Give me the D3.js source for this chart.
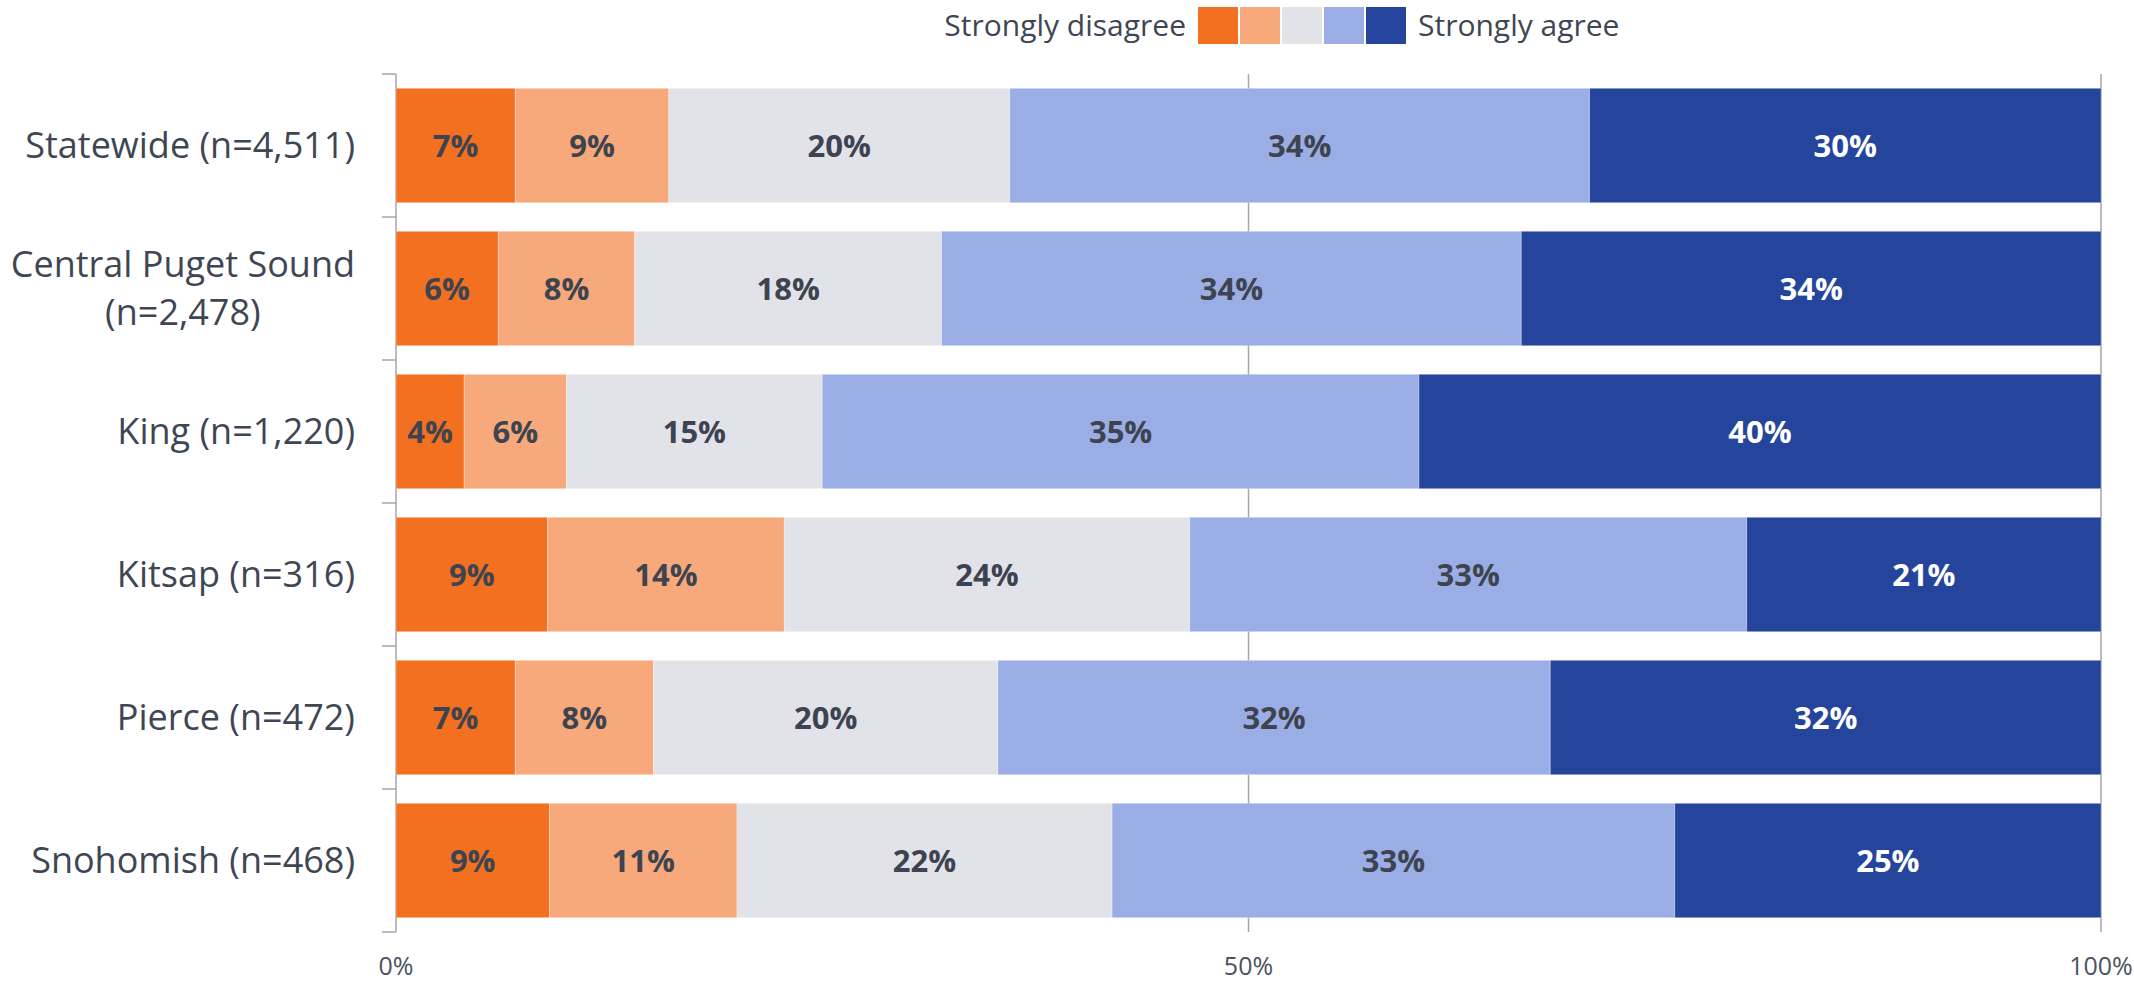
<!DOCTYPE html>
<html>
<head>
<meta charset="utf-8">
<script src="https://cdn.jsdelivr.net/npm/d3@7"></script>
<style>
  html, body { margin: 0; padding: 0; background: #ffffff; }
  svg { display: block; }
  text { font-family: "Open Sans", "Noto Sans", sans-serif; }
</style>
</head>
<body>
<svg id="chart" width="2134" height="983"></svg>
<script>
// ---------- data ----------
const categories = [
  "Statewide (n=4,511)",
  "Central Puget Sound (n=2,478)",
  "King (n=1,220)",
  "Kitsap (n=316)",
  "Pierce (n=472)",
  "Snohomish (n=468)"
];
const seriesNames = ["Strongly disagree", "Disagree", "Neutral", "Agree", "Strongly agree"];
const stronglyDisagree = [7, 6, 4, 8.9, 7.0, 9.0];
const disagree         = [9, 8, 6, 13.9, 8.1, 11.0];
const neutral          = [20, 18, 15, 23.8, 20.2, 22.0];
const agree            = [34, 34, 35, 32.7, 32.4, 33.0];
const stronglyAgree    = [30, 34, 40, 20.8, 32.3, 25.0];
const xTicks = [0, 0.5, 1];
const xTickLabels = ["0%", "50%", "100%"];
const legendLeft = "Strongly disagree";
const legendRight = "Strongly agree";

const colors = ["#F37021", "#F8A97B", "#E1E3E8", "#9BADE5", "#25459D"];
const labelColors = ["#3D4450", "#3D4450", "#3D4450", "#3D4450", "#FFFFFF"];

const seriesValues = [stronglyDisagree, disagree, neutral, agree, stronglyAgree];
const rows = categories.map((c, i) => {
  const r = { category: c };
  seriesNames.forEach((s, k) => r[s] = seriesValues[k][i]);
  return r;
});
const stacked = d3.stack().keys(seriesNames)
  .value((d, key) => d[key] / d3.sum(seriesNames, k => d[k]))(rows);

// ---------- layout ----------
const svg = d3.select("#chart");
const x0 = 396, x1 = 2101, yTop = 74, yBottom = 932;
const x = d3.scaleLinear().domain([0, 1]).range([x0, x1]);
const y = d3.scaleBand().domain(categories).range([yTop, yBottom])
  .paddingInner(0.2).paddingOuter(0.1);
const axisColor = "#A6A6A6";

// gridlines
svg.append("g").selectAll("line").data(xTicks).join("line")
  .attr("x1", d => x(d)).attr("x2", d => x(d))
  .attr("y1", yTop).attr("y2", yBottom)
  .attr("stroke", axisColor).attr("stroke-width", 1.5);

// category boundary ticks (left of axis)
const step = y.step();
const boundaries = d3.range(categories.length + 1).map(i => yTop + i * step);
svg.append("g").selectAll("line").data(boundaries).join("line")
  .attr("x1", x0 - 14).attr("x2", x0)
  .attr("y1", d => d).attr("y2", d => d)
  .attr("stroke", axisColor).attr("stroke-width", 1.5);

// bars
const layers = svg.append("g").selectAll("g").data(stacked).join("g")
  .attr("fill", (d, i) => colors[i]);
layers.selectAll("rect").data(d => d).join("rect")
  .attr("x", d => x(d[0]))
  .attr("width", d => x(d[1]) - x(d[0]))
  .attr("y", d => y(d.data.category))
  .attr("height", y.bandwidth())
  .attr("stroke", "#ffffff").attr("stroke-opacity", 0.3).attr("stroke-width", 1);

// value labels
const labelG = svg.append("g");
stacked.forEach((layer, k) => {
  labelG.selectAll(null).data(layer).join("text")
    .attr("x", d => (x(d[0]) + x(d[1])) / 2)
    .attr("y", d => y(d.data.category) + y.bandwidth() / 2)
    .attr("dy", "0.36em")
    .attr("text-anchor", "middle")
    .attr("font-size", 31)
    .attr("font-weight", 700)
    .attr("fill", labelColors[k])
    .text(d => Math.round(d.data[seriesNames[k]]) + "%");
});

// category labels with wrapping
const labelRight = 355, maxLabelWidth = 360, lineHeight = 48;
const catG = svg.append("g");
categories.forEach(c => {
  const cy = y(c) + y.bandwidth() / 2;
  const t = catG.append("text").attr("font-size", 36).attr("fill", "#3F4653");
  const words = c.split(" ");
  const lines = [];
  let cur = [];
  const probe = t.append("tspan");
  words.forEach(w => {
    const test = cur.concat([w]).join(" ");
    probe.text(test);
    if (probe.node().getComputedTextLength() > maxLabelWidth && cur.length) {
      lines.push(cur.join(" "));
      cur = [w];
    } else cur.push(w);
  });
  lines.push(cur.join(" "));
  probe.remove();
  const widths = lines.map(l => {
    const p = t.append("tspan").text(l);
    const w = p.node().getComputedTextLength();
    p.remove();
    return w;
  });
  const blockW = d3.max(widths);
  const cx = labelRight - blockW / 2;
  const n = lines.length;
  lines.forEach((l, i) => {
    t.append("tspan")
      .attr("x", cx)
      .attr("text-anchor", "middle")
      .attr("y", cy + (i - (n - 1) / 2) * lineHeight)
      .attr("dy", "0.36em")
      .text(l);
  });
});

// x tick labels
svg.append("g").selectAll("text").data(xTicks).join("text")
  .attr("x", d => x(d))
  .attr("y", 975)
  .attr("text-anchor", "middle")
  .attr("font-size", 25)
  .attr("fill", "#4A5260")
  .text((d, i) => xTickLabels[i]);

// legend
const legG = svg.append("g");
const swX = 1198, swW = 40, swStep = 42, swY = 7, swH = 37;
legG.selectAll("rect").data(colors).join("rect")
  .attr("x", (d, i) => swX + i * swStep)
  .attr("y", swY).attr("width", swW).attr("height", swH)
  .attr("fill", d => d);
legG.append("text")
  .attr("x", swX - 12).attr("y", swY + swH / 2).attr("dy", "0.36em")
  .attr("text-anchor", "end").attr("font-size", 30).attr("fill", "#3F4653")
  .text(legendLeft);
legG.append("text")
  .attr("x", swX + 4 * swStep + swW + 12).attr("y", swY + swH / 2).attr("dy", "0.36em")
  .attr("text-anchor", "start").attr("font-size", 30).attr("fill", "#3F4653")
  .text(legendRight);
</script>
</body>
</html>
